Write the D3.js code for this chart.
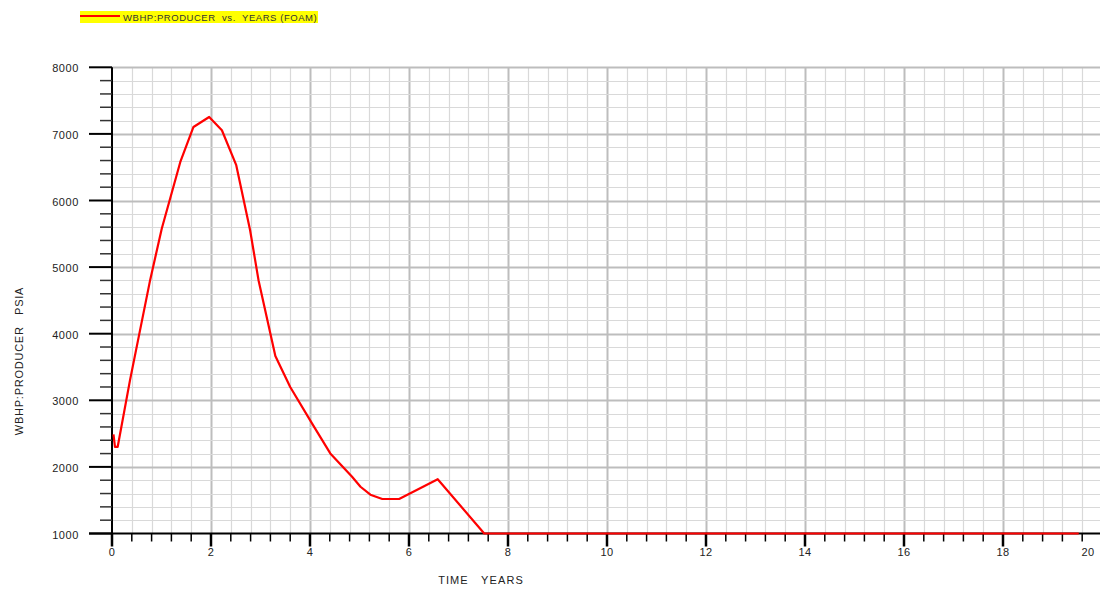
<!DOCTYPE html>
<html>
<head>
<meta charset="utf-8">
<script src="https://cdn.jsdelivr.net/npm/d3@7"></script>
<style>
  html, body { margin: 0; padding: 0; background: #fff; }
  svg { display: block; font-family: "Liberation Sans", Arial, sans-serif; }
  text { white-space: pre; }
</style>
</head>
<body>
<svg id="chart" width="1109" height="591"></svg>
<script>
// Bottom-hole pressure of the producer over time (foam case)
const years = [0.03, 0.06, 0.115, 0.364, 0.77, 1.006, 1.38, 1.646, 1.963, 2.22, 2.51, 2.79, 2.96, 3.30, 3.60, 4.04, 4.41, 4.85, 5.02, 5.22, 5.46, 5.80, 6.58, 7.52, 19.53];
const wbhp  = [2489, 2302, 2302, 3303, 4804, 5580, 6579, 7104, 7254, 7055, 6530, 5554, 4804, 3664, 3200, 2654, 2203, 1852, 1702, 1583, 1518, 1518, 1815, 1000, 1000];

const xMajorTicks = [0, 2, 4, 6, 8, 10, 12, 14, 16, 18, 20];
const yMajorTicks = [1000, 2000, 3000, 4000, 5000, 6000, 7000, 8000];
const legendLabel = "WBHP:PRODUCER  vs.  YEARS (FOAM)";
const yTitle = "WBHP:PRODUCER   PSIA";
const xTitle = "TIME   YEARS";

const svg = d3.select("#chart");
const plotLeft = 112, plotRight = 1100, plotTop = 67.3, plotBottom = 533.5;

const x = d3.scaleLinear().domain([0, 20]).range([plotLeft, plotLeft + 20 * 49.5]);
const y = d3.scaleLinear().domain([1000, 8000]).range([plotBottom, plotTop]);

// minor grid: every 0.4 years and every 200 psia
const xMinor = d3.range(0, 19.61, 0.4).map(v => +v.toFixed(1));
const yMinor = d3.range(1000, 8001, 200);
const isMajorX = v => Math.abs(v / 2 - Math.round(v / 2)) < 1e-6;
const isMajorY = v => v % 1000 === 0;

const grid = svg.append("g");
grid.selectAll("line.gx").data(xMinor.filter(v => v > 0)).join("line")
  .attr("x1", d => Math.round(x(d)) + 0.5).attr("x2", d => Math.round(x(d)) + 0.5)
  .attr("y1", plotTop).attr("y2", plotBottom)
  .attr("stroke", d => isMajorX(d) ? "#bdbdbd" : "#d9d9d9")
  .attr("stroke-width", d => isMajorX(d) ? 2 : 1.2);
grid.selectAll("line.gy").data(yMinor.filter(v => v > 1000)).join("line")
  .attr("x1", plotLeft).attr("x2", plotRight)
  .attr("y1", d => Math.round(y(d)) + 0.5).attr("y2", d => Math.round(y(d)) + 0.5)
  .attr("stroke", d => isMajorY(d) ? "#bdbdbd" : "#d9d9d9")
  .attr("stroke-width", d => isMajorY(d) ? 2 : 1.2);

// axes
const axes = svg.append("g").attr("stroke", "#000");
axes.append("line").attr("x1", plotLeft).attr("x2", plotLeft).attr("y1", plotTop).attr("y2", plotBottom).attr("stroke-width", 2);
axes.append("line").attr("x1", 89).attr("x2", plotRight).attr("y1", plotBottom).attr("y2", plotBottom).attr("stroke-width", 2);

// y ticks
axes.selectAll("line.ty").data(yMinor).join("line")
  .attr("x1", d => isMajorY(d) ? 89 : 100).attr("x2", plotLeft)
  .attr("y1", d => y(d)).attr("y2", d => y(d))
  .attr("stroke-width", d => isMajorY(d) ? 2 : 1.5)
  .attr("stroke", d => isMajorY(d) ? "#000" : "#333");
// x ticks
axes.selectAll("line.tx").data(xMinor).join("line")
  .attr("x1", d => x(d)).attr("x2", d => x(d))
  .attr("y1", plotBottom).attr("y2", d => plotBottom + (isMajorX(d) ? 13 : 8))
  .attr("stroke-width", d => isMajorX(d) ? 2.5 : 1.5);

// tick labels
svg.append("g").selectAll("text").data(yMajorTicks).join("text")
  .attr("x", 79).attr("y", d => y(d) + 5)
  .attr("text-anchor", "end").attr("font-size", 11).attr("letter-spacing", 0.6).attr("fill", "#222")
  .text(d => d);
svg.append("g").selectAll("text").data(xMajorTicks).join("text")
  .attr("x", d => Math.min(x(d), plotRight - 12))
  .attr("y", 556)
  .attr("text-anchor", "middle").attr("font-size", 11).attr("letter-spacing", 0.5).attr("fill", "#222")
  .text(d => d);

// axis titles
svg.append("text").attr("transform", "translate(23,361) rotate(-90)")
  .attr("text-anchor", "middle").attr("font-size", 11).attr("letter-spacing", 0.75).attr("fill", "#222").text(yTitle);
svg.append("text").attr("x", 481).attr("y", 584)
  .attr("text-anchor", "middle").attr("font-size", 11).attr("letter-spacing", 1.1).attr("fill", "#222").text(xTitle);

// data curve
const line = d3.line().x((d, i) => x(years[i])).y(d => y(d));
svg.append("path").datum(wbhp).attr("d", line)
  .attr("fill", "none").attr("stroke", "#ff0000").attr("stroke-width", 2.2)
  .attr("stroke-linejoin", "round");

// legend
const lg = svg.append("g");
lg.append("rect").attr("x", 80).attr("y", 11).attr("width", 238).attr("height", 12).attr("fill", "#ffff00");
lg.append("line").attr("x1", 80).attr("x2", 120).attr("y1", 16).attr("y2", 16)
  .attr("stroke", "#ff0000").attr("stroke-width", 2);
lg.append("text").attr("x", 123).attr("y", 20.5).attr("font-size", 9.5).attr("letter-spacing", 0.55).attr("fill", "#333")
  .text(legendLabel);
</script>
</body>
</html>
